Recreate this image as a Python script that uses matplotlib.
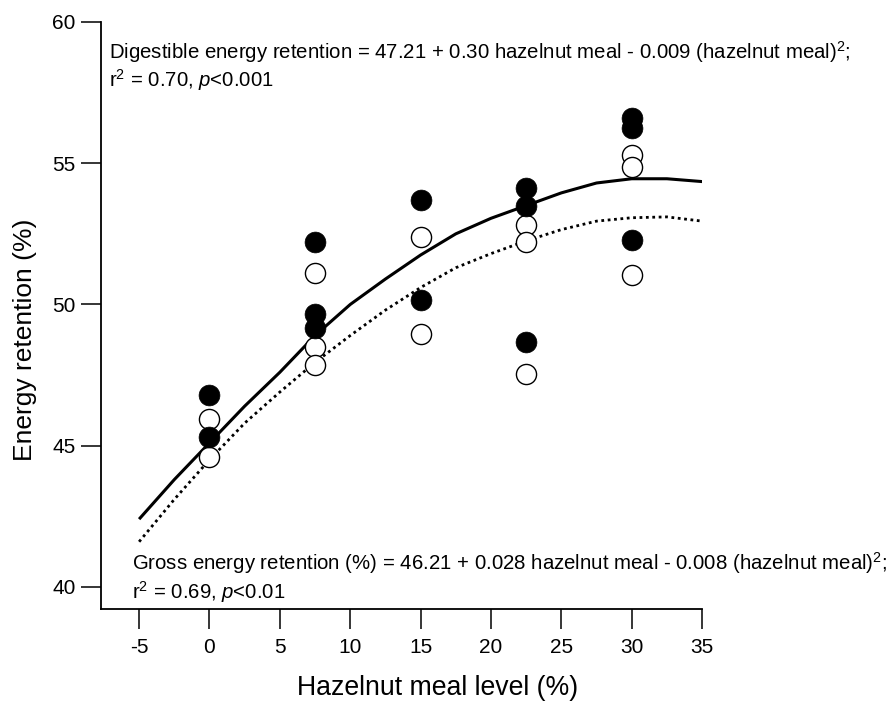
import matplotlib
matplotlib.use("Agg")
import matplotlib.pyplot as plt

plt.rcParams['font.family'] = ['Liberation Sans', 'DejaVu Sans']
plt.rcParams['mathtext.fontset'] = 'custom'
plt.rcParams['mathtext.rm'] = 'Liberation Sans'
plt.rcParams['mathtext.it'] = 'Liberation Sans:italic'
plt.rcParams['mathtext.bf'] = 'Liberation Sans:bold'

# Digestible energy retention (filled) and gross energy retention (open)
de_x = [0, 0, 7.5, 7.5, 7.5, 15, 15, 22.5, 22.5, 22.5, 30, 30, 30]
de_y = [46.8, 45.3, 52.2, 49.65, 49.15, 53.7, 50.15, 54.12, 53.5, 48.67, 56.6, 56.25, 52.28]
ge_x = [0, 0, 7.5, 7.5, 7.5, 15, 15, 22.5, 22.5, 22.5, 30, 30, 30]
ge_y = [45.95, 44.6, 51.1, 48.5, 47.87, 52.4, 48.95, 52.82, 52.22, 47.54, 55.3, 54.85, 51.05]

# fitted curves
curve_x = [-5, -2.5, 0, 2.5, 5, 7.5, 10, 12.5, 15, 17.5, 20, 22.5, 25, 27.5, 30, 32.5, 35]
de_fit = [42.4, 43.8, 45.1, 46.4, 47.6, 48.9, 50.0, 50.9, 51.75, 52.5, 53.05, 53.5,
          53.95, 54.3, 54.45, 54.45, 54.35]
ge_fit = [41.6, 43.1, 44.5, 45.8, 46.9, 47.95, 48.9, 49.8, 50.6, 51.3, 51.8, 52.25,
          52.65, 52.95, 53.07, 53.1, 52.95]

xticks = [-5, 0, 5, 10, 15, 20, 25, 30, 35]
yticks = [40, 45, 50, 55, 60]

fig = plt.figure(figsize=(8.91, 7.02), dpi=100)
ax = fig.add_axes([0.113, 0.1325, 0.675, 0.8362])

ax.plot(curve_x, de_fit, color='black', lw=2.2, solid_capstyle='butt', zorder=2)
ax.plot(curve_x, ge_fit, color='black', lw=2.0, linestyle=(0, (1, 1.3)), zorder=2)

ax.plot(ge_x, ge_y, linestyle='none', marker='o', ms=14.5, mfc='white', mec='black', mew=1.0, zorder=3)
ax.plot(de_x, de_y, linestyle='none', marker='o', ms=15, mfc='black', mec='black', mew=0.5, zorder=4)

ax.set_xlim(-7.73, 35)
ax.set_ylim(39.22, 60)
ax.set_xticks(xticks)
ax.set_xticklabels([str(t) for t in xticks])
ax.set_yticks(yticks)
ax.set_yticklabels([str(t) for t in yticks])

for s in ['top', 'right']:
    ax.spines[s].set_visible(False)
for s in ['left', 'bottom']:
    ax.spines[s].set_linewidth(1.3)

ax.tick_params(axis='both', direction='out', length=14.5, width=1.1, labelsize=15)
ax.tick_params(axis='x', pad=6.5)
ax.tick_params(axis='y', pad=3.5)

ax.set_xlabel('Hazelnut meal level (%)', fontsize=19.2, va='center')
ax.xaxis.set_label_coords(0.56, -0.1346)
ax.set_ylabel('Energy retention (%)', fontsize=19, va='center')
ax.yaxis.set_label_coords(-0.126, 0.458)

fs = 14.7
ax.text(0.0138, 0.949, 'Digestible energy retention = 47.21 + 0.30 hazelnut meal - 0.009 (hazelnut meal)$^{2}$;',
        transform=ax.transAxes, fontsize=fs, ha='left', va='center')
ax.text(0.0138, 0.901, 'r$^{2}$ = 0.70, $p$<0.001',
        transform=ax.transAxes, fontsize=fs, ha='left', va='center')
ax.text(0.052, 0.0784, 'Gross energy retention (%) = 46.21 + 0.028 hazelnut meal - 0.008 (hazelnut meal)$^{2}$;',
        transform=ax.transAxes, fontsize=fs, ha='left', va='center')
ax.text(0.052, 0.029, 'r$^{2}$ = 0.69, $p$<0.01',
        transform=ax.transAxes, fontsize=fs, ha='left', va='center')

fig.savefig('out.png', dpi=100)
